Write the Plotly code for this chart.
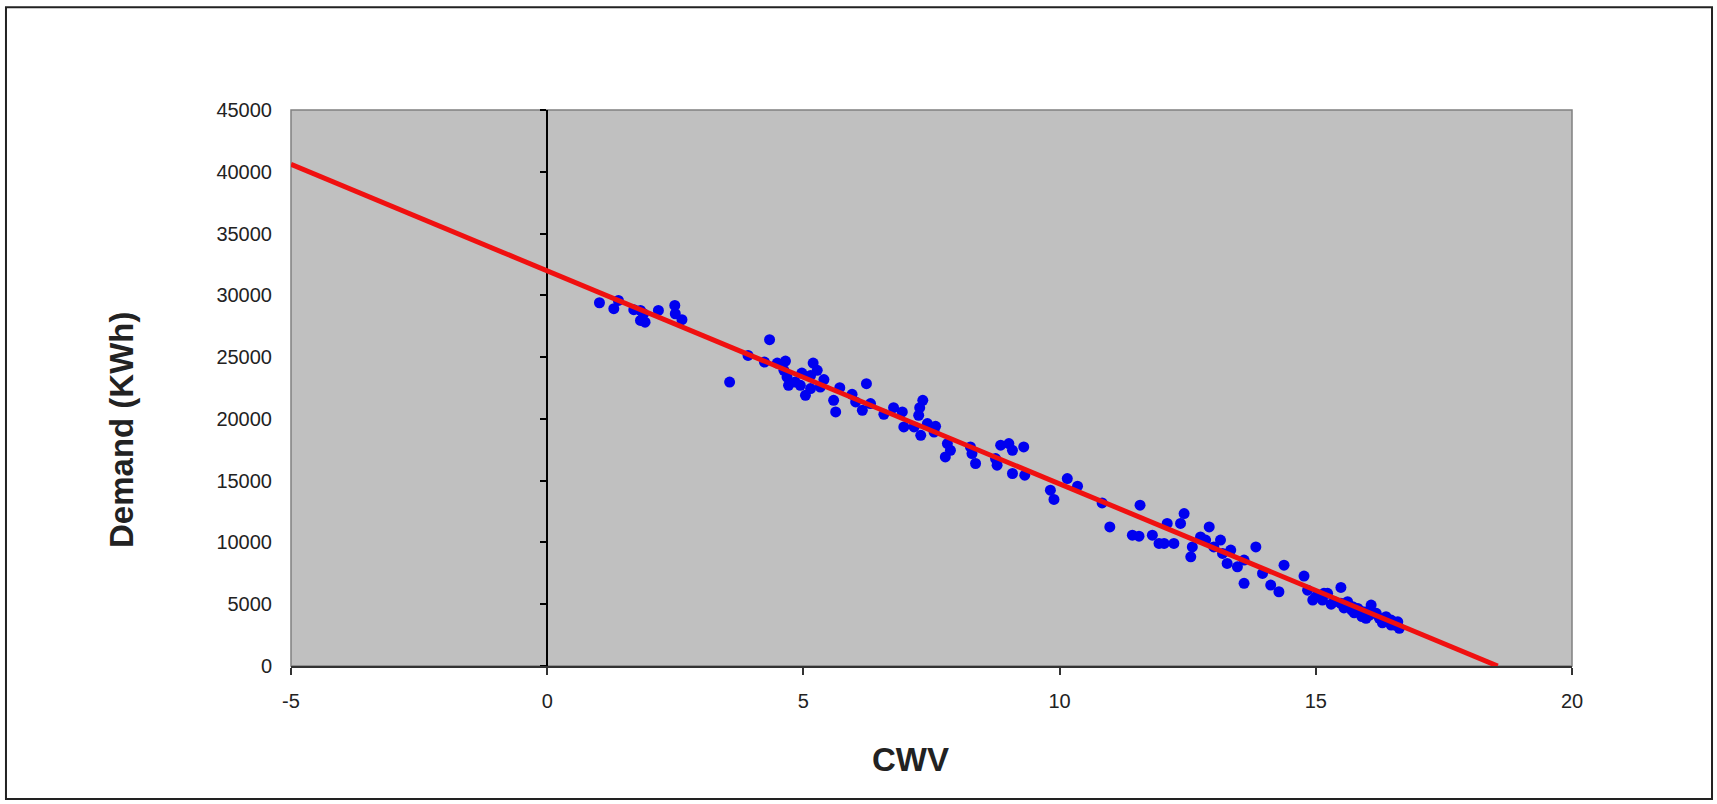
import plotly.graph_objects as go

# Observed data (CWV vs daily gas demand)
cwv = [1.02, 1.39, 1.30, 1.69, 1.82, 1.88, 1.82, 1.91, 2.17, 2.49, 2.50, 2.63,
       3.56, 3.92, 4.24, 4.34, 4.49, 4.65, 4.62, 4.68, 4.71, 4.84, 4.97, 4.94,
       5.04, 5.14, 5.19, 5.27, 5.14, 5.33, 5.40, 5.59, 5.63, 5.71, 5.95, 6.02,
       6.15, 6.23, 6.31, 6.57, 6.76, 6.93, 6.96, 7.16, 7.27, 7.33, 7.25, 7.29,
       7.42, 7.58, 7.55, 7.81, 7.77, 7.87, 8.26, 8.29, 8.36, 8.75, 8.78, 8.85,
       9.01, 9.08, 9.08, 9.30, 9.32, 9.82, 9.89, 10.15, 10.35, 10.83, 10.98, 11.57,
       11.42, 11.55, 11.81, 11.94, 12.10, 12.04, 12.23, 12.43, 12.36, 12.56, 12.59, 12.75,
       12.92, 12.85, 13.01, 13.14, 13.18, 13.27, 13.34, 13.47, 13.60, 13.60, 13.83, 13.96,
       14.12, 14.28, 14.38, 14.77, 14.84, 15.00, 15.16, 15.49, 14.94, 15.13, 15.23, 15.36,
       15.49, 15.62, 15.72, 15.82, 15.92, 16.08, 16.05, 16.18, 16.24, 16.37, 16.47, 16.60,
       16.63, 15.70, 15.98, 16.47, 15.30, 15.55, 15.75, 16.00, 16.30, 16.55, 15.90]
demand = [29400, 29590, 28920, 28840, 28780, 28510, 27970, 27830, 28780, 29180, 28510, 28030,
          22980, 25140, 24600, 26410, 24520, 24680, 23930, 23390, 22720, 22980, 23710, 22720,
          21910, 23520, 24520, 23930, 22450, 22580, 23180, 21500, 20560, 22530, 21990, 21370,
          20700, 22850, 21240, 20370, 20910, 20560, 19350, 19350, 20910, 21500, 20290, 18670,
          19620, 19400, 18940, 18000, 16920, 17460, 17730, 17190, 16390, 16790, 16250, 17870,
          18000, 17460, 15580, 17730, 15440, 14230, 13480, 15170, 14550, 13200, 11260, 13020,
          10590, 10510, 10590, 9920, 11540, 9920, 9920, 12340, 11540, 8840, 9640, 10450,
          11260, 10190, 9640, 10190, 9110, 8300, 9380, 8030, 8570, 6690, 9640, 7490,
          6550, 6010, 8160, 7280, 6140, 5600, 5880, 6360, 5340, 5340, 5880, 5200,
          5070, 5200, 4800, 4660, 4390, 4930, 4120, 4260, 3860, 3990, 3720, 3580,
          3050, 4530, 3860, 3310, 5000, 4700, 4300, 4400, 3500, 3300, 4000]

# Linear trend line, extended to the axis range
trend_x = [-5, 18.55]
trend_y = [40600, 0]

x_ticks = [-5, 0, 5, 10, 15, 20]
x_tick_labels = ["-5", "0", "5", "10", "15", "20"]
y_ticks = [0, 5000, 10000, 15000, 20000, 25000, 30000, 35000, 40000, 45000]

FONT = "Liberation Sans, Arial, sans-serif"

fig = go.Figure()
fig.add_trace(go.Scatter(x=[None], y=[None], yaxis="y2", showlegend=False,
                         hoverinfo="skip", mode="markers"))
fig.add_trace(go.Scatter(x=cwv, y=demand, mode="markers",
                         marker=dict(color="#0000F0", size=11, line=dict(width=0)),
                         showlegend=False, name="Demand"))
fig.add_trace(go.Scatter(x=trend_x, y=trend_y, mode="lines",
                         line=dict(color="#F01010", width=5),
                         showlegend=False, name="Trend"))

fig.update_layout(
    width=1717, height=804, autosize=False,
    margin=dict(l=291, r=145, t=110, b=138),
    paper_bgcolor="white", plot_bgcolor="#C0C0C0",
    font=dict(family=FONT, size=20, color="#222222"),
    xaxis=dict(range=[-5, 20], tickvals=x_ticks, ticktext=x_tick_labels,
               showgrid=False, zeroline=False,
               showline=True, linecolor="#333333", linewidth=2,
               ticks="outside", ticklen=7, tickcolor="#333333", tickwidth=1.5,
               ticklabelstandoff=9, tickfont=dict(size=20, family=FONT)),
    yaxis=dict(range=[0, 45000], tickvals=y_ticks, tickformat="d",
               showgrid=False, zeroline=False, showline=False, ticks="",
               ticklabelstandoff=18, tickfont=dict(size=20, family=FONT)),
    yaxis2=dict(range=[0, 45000], tickvals=y_ticks, overlaying="y", anchor="free",
                position=0.2, side="left", showgrid=False, zeroline=False,
                showline=True, linecolor="#000000", linewidth=1.5,
                ticks="outside", ticklen=6, tickcolor="#000000", tickwidth=1.5,
                showticklabels=False, layer="below traces"),
    shapes=[
        dict(type="rect", xref="paper", yref="paper", x0=0, x1=1, y0=0, y1=1,
             line=dict(color="#808080", width=1.5), layer="below"),
        dict(type="rect", xref="paper", yref="paper", x0=-0.2225, x1=1.1093,
             y0=-0.239, y1=1.185, line=dict(color="#222222", width=2)),
    ],
    annotations=[
        dict(text="<b>Demand (KWh)</b>", xref="paper", yref="paper",
             x=(121 - 291) / 1281, y=(666 - 430) / 556, textangle=-90,
             showarrow=False, font=dict(size=33, family=FONT, color="#222222"),
             xanchor="center", yanchor="middle"),
        dict(text="<b>CWV</b>", xref="paper", yref="paper",
             x=(910 - 291) / 1281, y=(666 - 759) / 556,
             showarrow=False, font=dict(size=33, family=FONT, color="#222222"),
             xanchor="center", yanchor="middle"),
    ],
)

fig.write_html(
    "out.html",
    config={"displayModeBar": False},
    post_script="document.body.style.margin='0';document.body.style.overflow='hidden';",
)
